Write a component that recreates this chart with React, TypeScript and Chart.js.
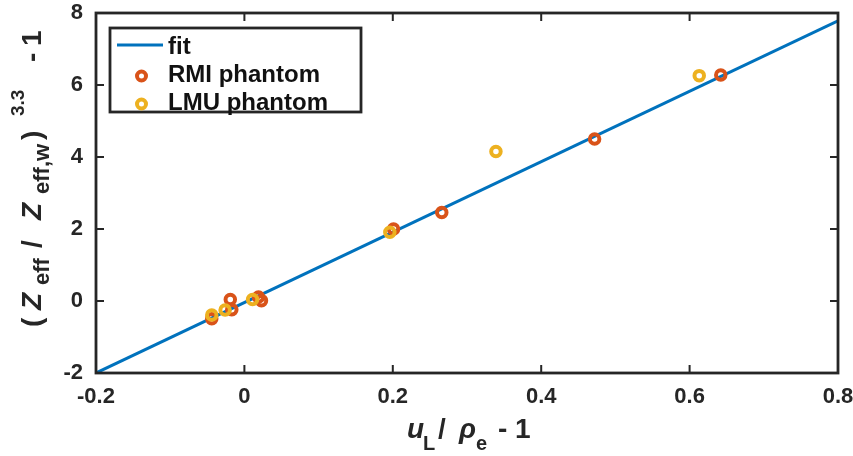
import React, { useEffect, useRef } from 'react';
import { Chart, registerables } from 'chart.js';

Chart.register(...registerables);

// ---- data ----
const fitX = [-0.2, 0.8];
const fitY = [-2.0, 7.78];
const rmiX = [-0.044, -0.019, -0.017, 0.019, 0.023, 0.201, 0.266, 0.472, 0.642];
const rmiY = [-0.49, 0.04, -0.24, 0.11, 0.01, 2.0, 2.46, 4.5, 6.28];
const lmuX = [-0.044, -0.026, 0.011, 0.196, 0.339, 0.613];
const lmuY = [-0.39, -0.25, 0.04, 1.91, 4.15, 6.26];
const xTicks = [-0.2, 0, 0.2, 0.4, 0.6, 0.8];
const yTicks = [-2, 0, 2, 4, 6, 8];
const legendLabels = ['fit', 'RMI phantom', 'LMU phantom'];

const BLUE = '#0072BD';
const ORANGE = '#D95319';
const YELLOW = '#EDB120';
const AXIS = '#262626';
const FONT = '"Liberation Sans", Arial, Helvetica, sans-serif';

type Seg = { t: string; at: number; italic?: boolean; size?: number; dy?: number };

function drawSegs(ctx: CanvasRenderingContext2D, segs: Seg[], main: number) {
  for (const s of segs) {
    const size = s.size ?? main;
    ctx.font = `${s.italic ? 'italic ' : ''}bold ${size}px ${FONT}`;
    ctx.fillText(s.t, s.at, s.dy ?? 0);
  }
}

const xTitle: Seg[] = [
  { t: 'u', at: 0, italic: true },
  { t: 'L', at: 16, size: 20, dy: 12 },
  { t: '/', at: 31 },
  { t: 'ρ', at: 52, italic: true },
  { t: 'e', at: 69, size: 20, dy: 12 },
  { t: '-', at: 91 },
  { t: '1', at: 108 },
];

const yTitle: Seg[] = [
  { t: '(', at: 3 },
  { t: 'Z', at: 20, italic: true },
  { t: 'eff', at: 45, size: 22, dy: 8 },
  { t: '/', at: 82 },
  { t: 'Z', at: 110, italic: true },
  { t: 'eff,w', at: 136, size: 22, dy: 8 },
  { t: ')', at: 190 },
  { t: '3.3', at: 214, size: 19, dy: -17 },
  { t: '-', at: 268 },
  { t: '1', at: 284 },
];

const framePlugin = {
  id: 'frame',
  afterDatasetsDraw(chart: any) {
    const { ctx, chartArea } = chart;
    const { left, right, top, bottom } = chartArea;
    const xs = chart.scales.x;
    const ys = chart.scales.y;
    ctx.save();
    ctx.strokeStyle = AXIS;
    ctx.lineWidth = 2.8;
    ctx.strokeRect(left, top, right - left, bottom - top);
    ctx.lineWidth = 2;
    const tl = 8;
    ctx.beginPath();
    for (const v of xTicks) {
      const px = xs.getPixelForValue(v);
      ctx.moveTo(px, bottom);
      ctx.lineTo(px, bottom - tl);
      ctx.moveTo(px, top);
      ctx.lineTo(px, top + tl);
    }
    for (const v of yTicks) {
      const py = ys.getPixelForValue(v);
      ctx.moveTo(left, py);
      ctx.lineTo(left + tl, py);
      ctx.moveTo(right, py);
      ctx.lineTo(right - tl, py);
    }
    ctx.stroke();
    ctx.restore();
  },
  afterDraw(chart: any) {
    const { ctx, chartArea } = chart;
    ctx.save();
    ctx.fillStyle = AXIS;
    ctx.textBaseline = 'alphabetic';
    ctx.textAlign = 'left';
    // x title
    const cx = (chartArea.left + chartArea.right) / 2;
    ctx.save();
    ctx.translate(cx - 60, 438);
    drawSegs(ctx, xTitle, 28);
    ctx.restore();
    // y title
    ctx.save();
    ctx.translate(41, 330);
    ctx.rotate(-Math.PI / 2);
    drawSegs(ctx, yTitle, 28);
    ctx.restore();

    // legend
    const bx = 110, by = 28, bw = 251, bh = 84;
    ctx.fillStyle = '#ffffff';
    ctx.fillRect(bx, by, bw, bh);
    ctx.strokeStyle = AXIS;
    ctx.lineWidth = 2.8;
    ctx.strokeRect(bx, by, bw, bh);
    ctx.strokeStyle = BLUE;
    ctx.lineWidth = 3;
    ctx.beginPath();
    ctx.moveTo(117, 45);
    ctx.lineTo(163, 45);
    ctx.stroke();
    const ring = (x: number, y: number, c: string) => {
      ctx.strokeStyle = c;
      ctx.lineWidth = 4;
      ctx.beginPath();
      ctx.arc(x, y, 4.5, 0, Math.PI * 2);
      ctx.stroke();
    };
    ring(141.5, 76, ORANGE);
    ring(141.5, 104, YELLOW);
    ctx.fillStyle = '#111111';
    ctx.font = `bold 24px ${FONT}`;
    ctx.fillText(legendLabels[0], 168, 54);
    ctx.fillText(legendLabels[1], 168, 82);
    ctx.fillText(legendLabels[2], 168, 110);
    ctx.restore();
  },
};

export default function App() {
  const ref = useRef<HTMLCanvasElement | null>(null);
  useEffect(() => {
    if (!ref.current) return;
    const chart = new Chart(ref.current, {
      type: 'scatter',
      data: {
        datasets: [
          {
            label: legendLabels[2],
            data: lmuX.map((x, i) => ({ x, y: lmuY[i] })),
            borderColor: YELLOW,
            backgroundColor: 'rgba(0,0,0,0)',
            pointRadius: 4.75,
            pointBorderWidth: 4,
            pointHoverRadius: 4.75,
          },
          {
            label: legendLabels[1],
            data: rmiX.map((x, i) => ({ x, y: rmiY[i] })),
            borderColor: ORANGE,
            backgroundColor: 'rgba(0,0,0,0)',
            pointRadius: 4.75,
            pointBorderWidth: 4,
            pointHoverRadius: 4.75,
          },
          {
            label: legendLabels[0],
            data: fitX.map((x, i) => ({ x, y: fitY[i] })),
            borderColor: BLUE,
            backgroundColor: BLUE,
            showLine: true,
            borderWidth: 3,
            pointRadius: 0,
          } as any,
        ],
      },
      options: {
        animation: false,
        responsive: true,
        maintainAspectRatio: false,
        events: [],
        layout: { padding: { left: 0, top: 13, right: 15, bottom: 0 } },
        plugins: { legend: { display: false }, tooltip: { enabled: false } },
        scales: {
          x: {
            type: 'linear',
            min: -0.2,
            max: 0.8,
            afterBuildTicks: (s: any) => {
              s.ticks = xTicks.map((v) => ({ value: v }));
            },
            afterFit: (s: any) => {
              s.height = 83;
              s.paddingLeft = 0;
              s.paddingRight = 0;
            },
            grid: { display: false, drawTicks: false },
            border: { display: false },
            ticks: {
              padding: 11,
              color: AXIS,
              font: { family: FONT, size: 22, weight: 'bold' },
              callback: (v: any) => String(Math.round(Number(v) * 10) / 10),
            },
          },
          y: {
            type: 'linear',
            min: -2,
            max: 8,
            afterBuildTicks: (s: any) => {
              s.ticks = yTicks.map((v) => ({ value: v }));
            },
            afterFit: (s: any) => {
              s.width = 96;
              s.paddingTop = 0;
              s.paddingBottom = 0;
            },
            grid: { display: false, drawTicks: false },
            border: { display: false },
            ticks: {
              padding: 13,
              color: AXIS,
              font: { family: FONT, size: 22, weight: 'bold' },
              callback: (v: any) => String(v),
            },
          },
        },
      } as any,
      plugins: [framePlugin],
    });
    return () => chart.destroy();
  }, []);
  return (
    <div style={{ position: 'fixed', left: 0, top: 0, width: 853, height: 456, background: '#fff' }}>
      <canvas ref={ref} />
    </div>
  );
}
